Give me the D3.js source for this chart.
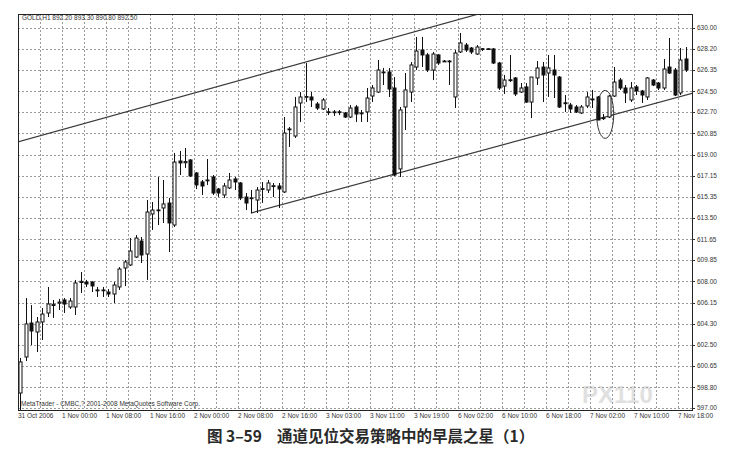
<!DOCTYPE html>
<html><head><meta charset="utf-8">
<script src="https://cdn.jsdelivr.net/npm/d3@7"></script>
<style>body{margin:0;background:#fff}svg{display:block}</style>
</head><body><svg id="c" width="732" height="457"></svg>
<script>
// ---- data (GOLD H1 candles) ----
const opens  = [598.30,601.43,604.38,603.60,604.47,605.25,605.90,606.10,606.38,605.77,605.77,607.90,607.94,607.94,607.25,607.20,607.07,606.90,607.51,609.16,609.42,610.11,611.50,610.37,613.85,614.15,614.37,614.80,612.89,618.45,618.30,618.54,617.41,616.63,616.75,617.06,616.02,615.50,616.11,616.89,616.54,615.32,615.20,615.06,616.00,615.93,616.30,616.28,615.76,621.20,620.62,623.49,624.00,624.01,623.40,622.97,622.72,622.70,622.72,622.62,622.27,623.14,622.60,622.71,624.09,624.44,626.15,626.18,624.79,617.76,623.14,624.44,626.61,628.09,627.66,626.35,627.66,627.10,627.13,624.01,627.92,628.52,628.26,627.74,628.20,628.18,628.18,626.96,624.96,625.50,625.66,624.44,624.88,623.57,625.66,626.61,626.09,626.35,625.74,623.50,623.31,623.14,622.62,623.23,623.80,624.01,622.20,622.27,624.09,625.48,624.79,623.75,624.88,624.53,624.01,625.48,625.22,624.79,626.61,626.35,624.36,627.31];
const highs  = [601.34,606.55,605.94,604.90,605.68,607.51,606.38,606.47,606.55,606.55,608.12,608.81,608.12,608.00,607.51,607.51,607.33,607.94,609.24,609.85,611.76,612.02,611.85,615.06,614.89,617.06,616.80,615.24,619.15,619.32,619.58,618.62,617.49,616.80,618.62,617.23,616.11,616.54,617.41,617.06,616.63,615.67,615.93,616.19,616.63,616.80,616.54,616.54,622.27,621.40,624.01,624.44,626.96,624.44,623.57,623.92,623.05,622.88,622.88,622.71,623.31,623.31,622.88,624.79,625.05,627.22,626.53,626.53,625.74,623.14,626.09,627.05,629.22,629.22,627.83,627.92,627.74,627.22,627.22,628.09,629.57,628.70,628.35,628.52,628.26,628.26,628.26,627.05,625.92,627.66,625.74,625.22,625.22,625.74,627.13,627.05,627.66,627.66,625.83,624.18,623.49,623.31,623.31,624.44,624.62,624.09,622.53,624.18,626.61,625.66,625.05,625.31,625.05,624.62,625.74,625.57,625.31,627.31,629.13,626.53,628.26,628.35];
const lows   = [596.83,601.08,602.47,601.86,602.91,604.90,604.82,605.51,605.25,605.60,605.08,606.99,607.51,607.07,606.64,606.64,606.64,606.12,607.25,607.59,609.33,610.03,609.59,608.12,612.46,612.89,613.07,610.55,612.72,617.23,617.84,617.06,616.02,615.50,616.37,615.50,615.32,615.24,616.02,615.93,615.06,614.19,613.93,613.93,614.80,615.67,615.32,614.37,615.67,619.67,620.45,621.84,623.57,623.14,622.88,622.88,622.44,622.36,622.44,622.18,622.18,621.84,621.84,621.84,623.57,624.36,625.05,624.01,617.15,617.06,621.14,623.57,626.35,626.61,626.18,625.48,626.79,627.05,625.05,623.05,627.83,627.92,627.74,627.66,628.00,628.09,626.87,624.62,624.27,625.31,624.09,624.36,623.49,622.18,625.05,623.57,624.01,623.92,623.05,622.71,622.62,622.62,622.53,623.05,623.05,622.00,622.01,622.18,624.01,624.62,623.49,623.57,624.18,623.49,623.75,624.96,624.62,624.62,626.01,624.09,624.18,626.18];
const closes = [601.00,604.30,603.69,604.47,605.16,606.03,606.00,606.20,606.03,606.29,607.86,608.00,607.77,607.60,607.20,607.25,606.90,607.68,609.07,609.68,610.63,611.76,610.29,614.02,614.19,614.20,614.72,613.07,618.36,618.28,618.40,617.15,616.37,616.28,616.80,615.67,615.67,616.28,616.80,616.63,615.24,614.80,615.25,615.93,616.05,616.54,616.28,616.02,620.88,621.23,623.14,624.01,624.05,623.75,623.05,623.75,622.70,622.72,622.70,622.27,623.05,622.53,622.62,623.92,624.79,626.35,626.18,624.70,617.23,622.88,624.62,626.79,628.00,627.66,626.35,627.74,626.96,627.13,627.10,627.83,628.70,628.09,627.92,628.35,628.17,628.20,626.96,624.79,625.48,625.48,624.27,624.79,623.57,625.74,626.53,625.92,626.53,625.92,623.14,623.49,622.97,622.71,623.14,624.01,623.83,622.01,622.18,624.09,625.31,624.79,624.36,624.79,624.53,624.18,625.66,625.05,624.79,626.44,626.09,624.18,627.22,626.35];

const yTickLabels = ["630.00","628.20","626.35","624.50","622.70","620.85","619.00","617.15","615.35","613.50","611.65","609.85","608.00","606.15","604.30","602.50","600.65","598.80","597.00"];
const xTickLabels = ["31 Oct 2006","1 Nov 00:00","1 Nov 08:00","1 Nov 16:00","2 Nov 00:00","2 Nov 08:00","2 Nov 16:00","3 Nov 03:00","3 Nov 11:00","3 Nov 19:00","6 Nov 02:00","6 Nov 10:00","6 Nov 18:00","7 Nov 02:00","7 Nov 10:00","7 Nov 18:00"];
const barsPerLabel = 8;
const barsPerGrid = 4;

// channel lines, anchors as [barIndex, price]
const upperChannel = [[0, 620.15], [80, 630.77]];
const lowerChannel = [[42, 613.93], [122, 624.30]];
// the marked morning star (centre as [barIndex, price])
const starMark = [106.4, 622.5];

const headerText = "GOLD,H1  892.20 893.30 890.80 892.50";
const copyrightText = "MetaTrader - CMBC,? 2001-2008 MetaQuotes Software Corp.";
const captionNum = "图 3–59";
const captionText = "通道见位交易策略中的早晨之星（1）";
const watermark = "PX110";

// ---- layout ----
const W = 732, H = 457;
const frame = {l: 18, r: 692, t: 14, b: 410};
const n = opens.length;
const svg = d3.select("#c");
const font = "'Liberation Sans', Arial, sans-serif";

const x = d3.scaleLinear().domain([0, n - 1]).range([20, 20 + 5.5 * (n - 1)]);
const y = d3.scaleLinear().domain([597, 630]).range([408, 28]);

svg.append("rect").attr("width", W).attr("height", H).attr("fill", "#fff");

// grid
const grid = svg.append("g").attr("stroke", "#9a9a9a").attr("stroke-width", 1)
  .attr("stroke-dasharray", "2,2").attr("shape-rendering", "crispEdges");
grid.selectAll("line.h").data(yTickLabels).join("line")
  .attr("x1", frame.l).attr("x2", frame.r)
  .attr("y1", d => Math.round(y(+d)) + 0.5).attr("y2", d => Math.round(y(+d)) + 0.5);
const gridIdx = d3.range(barsPerGrid, n + 2, barsPerGrid);
grid.selectAll("line.v").data(gridIdx).join("line")
  .attr("x1", d => Math.round(x(d) - 2) + 0.5).attr("x2", d => Math.round(x(d) - 2) + 0.5)
  .attr("y1", frame.t).attr("y2", frame.b)
  .attr("display", d => x(d) - 2 < frame.r - 1 ? null : "none");

// clip
svg.append("clipPath").attr("id", "plot").append("rect")
  .attr("x", frame.l).attr("y", frame.t)
  .attr("width", frame.r - frame.l).attr("height", frame.b - frame.t);

// watermark (faint, behind the marks)
svg.append("text").attr("x", 582).attr("y", 403).attr("font-family", font)
  .attr("font-weight", "bold").attr("font-size", 24).attr("fill", "#bbb")
  .attr("opacity", 0.45).text(watermark);

// channel lines
const lineFn = (a, from, to) => {
  const s = (a[1][1] - a[0][1]) / (a[1][0] - a[0][0]);
  return [from, to].map(i => [x(i), y(a[0][1] + s * (i - a[0][0]))]);
};
const chan = svg.append("g").attr("clip-path", "url(#plot)")
  .attr("stroke", "#3a3a3a").attr("stroke-width", 1.2).attr("fill", "none");
chan.append("path").attr("d", d3.line()(lineFn(upperChannel, -2, 100)));
chan.append("path").attr("d", d3.line()(lineFn(lowerChannel, 42, 124)));

// candles
const idx = d3.range(n);
const cg = svg.append("g");
cg.selectAll("line.w").data(idx).join("line")
  .attr("x1", i => Math.round(x(i)) + 0.5).attr("x2", i => Math.round(x(i)) + 0.5)
  .attr("y1", i => y(highs[i])).attr("y2", i => y(lows[i]))
  .attr("stroke", "#111").attr("stroke-width", 1);
cg.selectAll("rect.b").data(idx).join("rect")
  .attr("x", i => Math.round(x(i)) - 1)
  .attr("width", 3)
  .attr("y", i => y(Math.max(opens[i], closes[i])))
  .attr("height", i => Math.max(0.8, Math.abs(y(opens[i]) - y(closes[i]))))
  .attr("fill", i => closes[i] >= opens[i] ? "#fff" : "#111")
  .attr("stroke", "#111").attr("stroke-width", 1);

// star ellipse
svg.append("ellipse").attr("cx", x(starMark[0])).attr("cy", y(starMark[1]))
  .attr("rx", 8.5).attr("ry", 24).attr("fill", "none")
  .attr("stroke", "#333").attr("stroke-width", 1);

// frame
svg.append("rect").attr("x", frame.l + 0.5).attr("y", frame.t + 0.5)
  .attr("width", frame.r - frame.l).attr("height", frame.b - frame.t)
  .attr("fill", "none").attr("stroke", "#222").attr("stroke-width", 1);

// y axis labels
const ya = svg.append("g").attr("font-family", font).attr("font-size", 6.5).attr("fill", "#333");
ya.selectAll("line").data(yTickLabels).join("line")
  .attr("x1", frame.r).attr("x2", frame.r + 3)
  .attr("y1", d => Math.round(y(+d)) + 0.5).attr("y2", d => Math.round(y(+d)) + 0.5)
  .attr("stroke", "#333");
ya.selectAll("text").data(yTickLabels).join("text")
  .attr("x", frame.r + 5).attr("y", d => y(+d) + 2.3).text(d => d);

// x axis labels
const xa = svg.append("g").attr("font-family", font).attr("font-size", 6.5).attr("fill", "#333");
xa.selectAll("text").data(xTickLabels).join("text")
  .attr("x", (d, k) => x(k * barsPerLabel) - 2).attr("y", 418).text(d => d);

// header and copyright
svg.append("text").attr("x", 22).attr("y", 20).attr("font-family", font)
  .attr("font-size", 6.5).attr("fill", "#333").text(headerText);
svg.append("text").attr("x", 21).attr("y", 406).attr("font-family", font)
  .attr("font-size", 6.5).attr("fill", "#333").text(copyrightText);

// caption
const cap = svg.append("text").attr("y", 442).attr("font-family", "'Noto Sans CJK SC', sans-serif")
  .attr("font-weight", "bold").attr("font-size", 15.5).attr("fill", "#2a2a2a");
cap.append("tspan").attr("x", 207).text(captionNum);
cap.append("tspan").attr("x", 277).text(captionText);
</script></body></html>
